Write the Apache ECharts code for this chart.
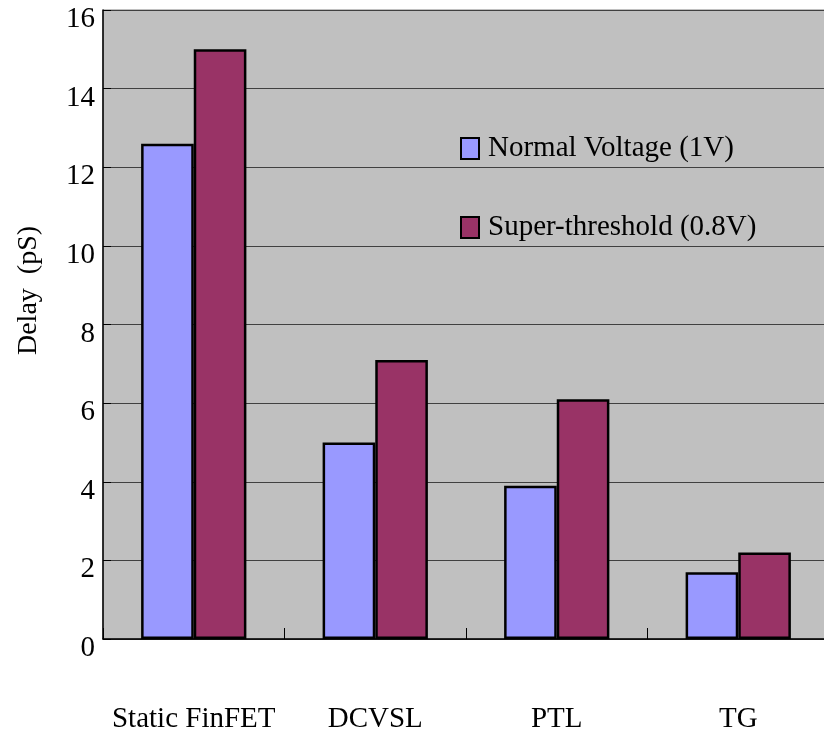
<!DOCTYPE html>
<html>
<head>
<meta charset="utf-8">
<style>
  html, body { margin: 0; padding: 0; background: #ffffff; }
  #chart { width: 824px; height: 736px; }
</style>
<script src="https://cdn.jsdelivr.net/npm/echarts@6/dist/echarts.min.js"></script>
</head>
<body>
<div id="chart"></div>
<script>
// Gate delay per logic style, two supply conditions
const categories = ['Static FinFET', 'DCVSL', 'PTL', 'TG'];
const normalVoltage = [12.6, 5.0, 3.9, 1.7];
const superThreshold = [15.0, 7.1, 6.1, 2.2];
const seriesNames = ['Normal Voltage (1V)', 'Super-threshold (0.8V)'];
const yTicks = { min: 0, max: 16, interval: 2 };

const serif = 'Liberation Serif, Times New Roman, serif';

const chart = echarts.init(document.getElementById('chart'), null, { renderer: 'canvas' });

chart.setOption({
  backgroundColor: '#ffffff',
  animation: false,
  grid: {
    left: 103,
    top: 10,
    width: 726,
    bottom: 97,
    outerBoundsMode: 'none',
    containLabel: false,
    show: true,
    backgroundColor: '#c0c0c0',
    borderColor: '#808080',
    borderWidth: 1
  },
  legend: {
    orient: 'vertical',
    left: 455,
    top: 129,
    itemGap: 50,
    itemWidth: 18,
    itemHeight: 21,
    icon: 'rect',
    textStyle: { fontFamily: serif, fontSize: 29, color: '#000000', padding: [0, 0, 0, 4] },
    data: seriesNames
  },
  xAxis: {
    type: 'category',
    data: categories,
    axisLine: { lineStyle: { color: '#000000', width: 1.5 } },
    axisTick: { show: true, inside: true, interval: 0, length: 11, lineStyle: { color: '#000000', width: 1 } },
    axisLabel: { interval: 0, fontFamily: serif, fontSize: 29, color: '#000000', margin: 66 },
    splitLine: { show: false }
  },
  yAxis: {
    type: 'value',
    min: yTicks.min,
    max: yTicks.max,
    interval: yTicks.interval,
    name: 'Delay  (pS)',
    nameLocation: 'middle',
    nameGap: 60,
    nameTextStyle: { fontFamily: serif, fontSize: 28, color: '#000000', padding: [0, 0, 0, 68] },
    axisLine: { show: true, lineStyle: { color: '#000000', width: 1.5 } },
    axisTick: { show: true, inside: true, length: 8, lineStyle: { color: '#000000', width: 1 } },
    axisLabel: {
      color: '#000000',
      margin: 8,
      // tick numbers sit a little below their grid lines
      formatter: (v) => '{n|' + v + '}',
      rich: { n: { fontFamily: serif, fontSize: 29, color: '#000000', padding: [19, 0, 0, 0] } }
    },
    splitLine: { show: true, lineStyle: { color: '#404040', width: 1 } }
  },
  series: [
    {
      name: seriesNames[0],
      type: 'bar',
      data: normalVoltage,
      barGap: '0%',
      barCategoryGap: '42%',
      itemStyle: { color: '#9999ff', borderColor: '#000000', borderWidth: 2.5 }
    },
    {
      name: seriesNames[1],
      type: 'bar',
      data: superThreshold,
      barGap: '0%',
      barCategoryGap: '42%',
      itemStyle: { color: '#993366', borderColor: '#000000', borderWidth: 2.5 }
    }
  ]
});
</script>
</body>
</html>
